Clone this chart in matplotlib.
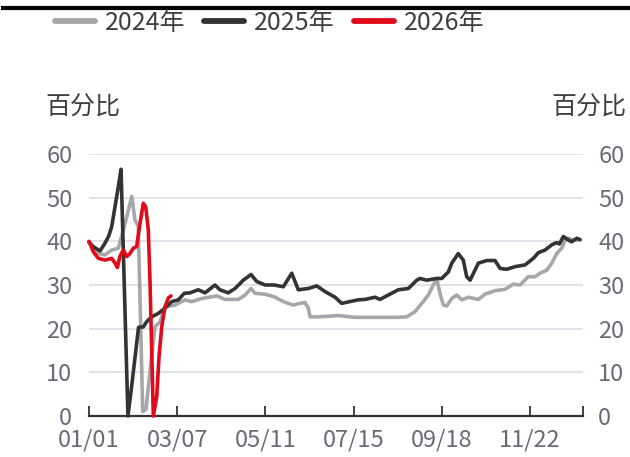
import matplotlib
matplotlib.use("Agg")
import matplotlib.pyplot as plt
from matplotlib.lines import Line2D

plt.rcParams['font.family'] = ['Noto Sans CJK SC', 'DejaVu Sans']

# ---- data (day offset from 01/01, value in %) ----
days_2024 = [0, 3, 6.9, 11.8, 16.7, 21.6, 25.3, 27.8, 31.5, 33.9, 36.3, 39.6, 42, 45.5, 48.6,
             52.3, 56, 63.4, 70.7, 75.7, 83, 90.4, 94.1, 100.2, 110, 115, 119.4, 122.3, 129.7,
             136.5, 143.2, 150.5, 155.5, 159.2, 161.6, 162.9, 169, 183.7, 196, 205.8, 215.7,
             227.9, 234.1, 240.2, 245.2, 250, 253.7, 256.2, 258.6, 261.1, 263.6, 267.3, 271,
             274.6, 279.5, 286.9, 291.8, 299.2, 306.5, 312.7, 317.6, 323.7, 328.7, 332.3, 337.3,
             341, 344.6, 348.3, 350.8, 353.2, 356.9, 361.8]
vals_2024 = [39.8, 38.8, 37.2, 36.9, 38, 38.4, 42.6, 45.6, 50.3, 44.9, 43.4, 1, 1.5, 12, 20.4,
             21.6, 25, 25.4, 26.6, 26.2, 26.9, 27.3, 27.5, 26.7, 26.7, 27.7, 29.2, 28.1, 27.9,
             27.3, 26.2, 25.4, 25.8, 26, 24.7, 22.7, 22.7, 23, 22.6, 22.6, 22.6,
             22.6, 22.7, 23.9, 25.8, 27.7, 30, 31.5, 28.1, 25.4, 25.2, 26.9, 27.7,
             26.6, 27.2, 26.7, 27.9, 28.7, 29, 30.2, 30, 31.9, 31.9, 32.7, 33.4,
             35, 37.2, 38.4, 40.3, 40.7, 40.3, 40.4]

days_2025 = [0, 3, 8.1, 11.8, 14.5, 16.7, 19.2, 21.6, 23.6, 28.7, 31.5, 36.5, 40, 42.5, 46.2,
             51.1, 56, 61, 65.8, 70.2, 74.4, 80.5, 85.5, 92.8, 96.5, 102.6, 107.6, 113.7, 119.4,
             123.6, 129.7, 136.5, 143.2, 149.4, 154.2, 161.6, 167.8, 173.9, 181.3, 186.2, 192.3,
             198.4, 203.4, 210.7, 214.4, 220.5, 227.9, 235.3, 241.5, 243.9, 248.8, 256.2, 259.9,
             264.8, 267.3, 272.1, 275.8, 278.3, 280.8, 284.4, 286.9, 293.1, 299.2, 302.9, 307.8,
             313.9, 321.3, 327.4, 331.1, 336, 341, 344.6, 346.6, 349.5, 353.2, 355.7, 359.4, 361.8]
vals_2025 = [39.8, 38.8, 37.8, 39.6, 41.2, 43.3, 48, 52.5, 56.5, 0, 7, 20.3, 20.4, 21.6, 22.7,
             23.5, 24.7, 26.2, 26.6, 28.1, 28.2, 28.9, 28.2, 30, 28.9, 28.2, 29.2, 31.1, 32.4,
             30.8, 30, 30, 29.6, 32.7, 28.9, 29.2, 29.8, 28.5, 27.2, 25.8, 26.2,
             26.6, 26.7, 27.2, 26.7, 27.7, 28.9, 29.2, 31.1, 31.5, 31.1, 31.5, 31.5,
             33, 35, 37.2, 35.7, 31.9, 31.1, 33.4, 35, 35.6, 35.6, 33.8, 33.6,
             34.2, 34.6, 36.1, 37.4, 38, 39.2, 39.7, 39.4, 41.1, 40.3, 39.9, 40.7, 40.4]

days_2026 = [0, 3.2, 6.9, 11.8, 16.7, 19.2, 20.9, 22.8, 25.3, 27.8, 30.2, 32.6, 35.1, 37.6, 40,
             41.8, 43.7, 45, 46.2, 47.4, 49.9, 51.6, 53.6, 56, 58.4, 60.4]
vals_2026 = [40, 37.6, 36.1, 35.7, 36.1, 35, 34, 36.6, 38, 36.5, 37.2, 38.4, 38.8, 44.1, 48.7,
             47.9, 42.6, 30.4, 15.1, 0, 4.4, 13.6, 20.4, 25, 27, 27.5]

tick_days = [0, 65, 130, 195, 260, 325, 364]
tick_labels = ['01/01', '03/07', '05/11', '07/15', '09/18', '11/22', '']
series_names = ['2024年', '2025年', '2026年']
colors = ['#A5A7AA', '#333333', '#E00A1A']

W, H = 630, 457
fig = plt.figure(figsize=(W / 100, H / 100), dpi=100)
ax = fig.add_axes([89 / W, 1 - 416 / H, (583 - 89) / W, (416 - 154) / H])

for y in range(10, 61, 10):
    ax.axhline(y, color='#D6D9E6', lw=1.1, zorder=0)

for d, v, c in zip([days_2024, days_2025, days_2026], [vals_2024, vals_2025, vals_2026], colors):
    ax.plot(d, v, color=c, lw=2.6, solid_joinstyle='round', solid_capstyle='round',
            clip_on=False, zorder=3)

ax.set_xlim(0, 364)
ax.set_ylim(0, 60)
ax.set_xticks(tick_days)
ax.set_xticklabels(tick_labels)
ax.set_yticks(range(0, 61, 10))
for s in ['top', 'right', 'left']:
    ax.spines[s].set_visible(False)
ax.spines['bottom'].set_color('#333333')
ax.spines['bottom'].set_linewidth(1.6)
ax.tick_params(axis='x', direction='in', length=7, width=1.3, color='#333333',
               labelsize=17, labelcolor='#6B6B78', pad=9)
ax.tick_params(axis='y', length=0, labelsize=17, labelcolor='#6B6B78', pad=12)

ax2 = ax.twinx()
ax2.set_ylim(0, 60)
ax2.set_yticks(range(0, 61, 10))
for s in ['top', 'right', 'left', 'bottom']:
    ax2.spines[s].set_visible(False)
ax2.tick_params(axis='y', length=0, labelsize=17, labelcolor='#6B6B78', pad=11)

fig.text(82.5 / W, 1 - 107.5 / H, '百分比', ha='center', va='center', fontsize=18, color='#404040')
fig.text(589 / W, 1 - 107.5 / H, '百分比', ha='center', va='center', fontsize=18, color='#404040')

fig.add_artist(Line2D([3 / W, 1], [1 - 7.5 / H] * 2, color='black', lw=3.0,
                      transform=fig.transFigure))

handles = [Line2D([], [], color=c, lw=4.2, solid_capstyle='round') for c in colors]
fig.legend(handles, series_names, loc='center left', bbox_to_anchor=(55 / W, 1 - 23 / H),
           ncol=3, frameon=False, fontsize=18, labelcolor='#404040',
           handlelength=1.6, handletextpad=0.4, columnspacing=0.75,
           borderpad=0, borderaxespad=0)

fig.savefig('out.png', dpi=100)
